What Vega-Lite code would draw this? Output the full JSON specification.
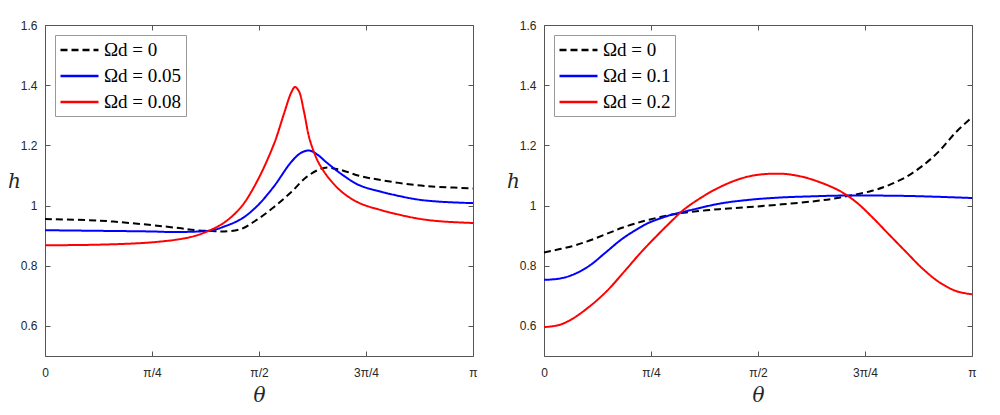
{
  "$schema": "https://vega.github.io/schema/vega-lite/v6.json",
  "padding": {"left": 7, "top": 19, "right": 5, "bottom": 5},
  "bounds": "flush",
  "spacing": 71,
  "datasets": {
    "left": [
      {"series": "Ωd = 0", "theta": 0, "h": 0.955},
      {"series": "Ωd = 0", "theta": 0.396, "h": 0.950},
      {"series": "Ωd = 0", "theta": 0.763, "h": 0.936},
      {"series": "Ωd = 0", "theta": 0.984, "h": 0.925},
      {"series": "Ωd = 0", "theta": 1.108, "h": 0.918},
      {"series": "Ωd = 0", "theta": 1.226, "h": 0.915},
      {"series": "Ωd = 0", "theta": 1.314, "h": 0.914},
      {"series": "Ωd = 0", "theta": 1.439, "h": 0.922},
      {"series": "Ωd = 0", "theta": 1.556, "h": 0.953},
      {"series": "Ωd = 0", "theta": 1.681, "h": 0.995},
      {"series": "Ωd = 0", "theta": 1.806, "h": 1.044},
      {"series": "Ωd = 0", "theta": 1.923, "h": 1.096},
      {"series": "Ωd = 0", "theta": 2.048, "h": 1.125},
      {"series": "Ωd = 0", "theta": 2.158, "h": 1.120},
      {"series": "Ωd = 0", "theta": 2.305, "h": 1.099},
      {"series": "Ωd = 0", "theta": 2.474, "h": 1.084},
      {"series": "Ωd = 0", "theta": 2.723, "h": 1.068},
      {"series": "Ωd = 0", "theta": 2.892, "h": 1.062},
      {"series": "Ωd = 0", "theta": 3.1416, "h": 1.057},
      {"series": "Ωd = 0.05", "theta": 0, "h": 0.918},
      {"series": "Ωd = 0.05", "theta": 0.396, "h": 0.916},
      {"series": "Ωd = 0.05", "theta": 0.763, "h": 0.914},
      {"series": "Ωd = 0.05", "theta": 0.984, "h": 0.912},
      {"series": "Ωd = 0.05", "theta": 1.226, "h": 0.918},
      {"series": "Ωd = 0.05", "theta": 1.314, "h": 0.930},
      {"series": "Ωd = 0.05", "theta": 1.439, "h": 0.955},
      {"series": "Ωd = 0.05", "theta": 1.556, "h": 0.998},
      {"series": "Ωd = 0.05", "theta": 1.681, "h": 1.064},
      {"series": "Ωd = 0.05", "theta": 1.806, "h": 1.144},
      {"series": "Ωd = 0.05", "theta": 1.879, "h": 1.175},
      {"series": "Ωd = 0.05", "theta": 1.938, "h": 1.183},
      {"series": "Ωd = 0.05", "theta": 1.997, "h": 1.170},
      {"series": "Ωd = 0.05", "theta": 2.070, "h": 1.142},
      {"series": "Ωd = 0.05", "theta": 2.190, "h": 1.100},
      {"series": "Ωd = 0.05", "theta": 2.305, "h": 1.068},
      {"series": "Ωd = 0.05", "theta": 2.474, "h": 1.045},
      {"series": "Ωd = 0.05", "theta": 2.723, "h": 1.021},
      {"series": "Ωd = 0.05", "theta": 2.892, "h": 1.013},
      {"series": "Ωd = 0.05", "theta": 3.1416, "h": 1.008},
      {"series": "Ωd = 0.08", "theta": 0, "h": 0.868},
      {"series": "Ωd = 0.08", "theta": 0.396, "h": 0.870},
      {"series": "Ωd = 0.08", "theta": 0.763, "h": 0.877},
      {"series": "Ωd = 0.08", "theta": 0.984, "h": 0.888},
      {"series": "Ωd = 0.08", "theta": 1.108, "h": 0.900},
      {"series": "Ωd = 0.08", "theta": 1.226, "h": 0.921},
      {"series": "Ωd = 0.08", "theta": 1.314, "h": 0.943},
      {"series": "Ωd = 0.08", "theta": 1.439, "h": 0.995},
      {"series": "Ωd = 0.08", "theta": 1.556, "h": 1.080},
      {"series": "Ωd = 0.08", "theta": 1.681, "h": 1.205},
      {"series": "Ωd = 0.08", "theta": 1.754, "h": 1.305},
      {"series": "Ωd = 0.08", "theta": 1.806, "h": 1.374},
      {"series": "Ωd = 0.08", "theta": 1.835, "h": 1.394},
      {"series": "Ωd = 0.08", "theta": 1.864, "h": 1.380},
      {"series": "Ωd = 0.08", "theta": 1.901, "h": 1.312},
      {"series": "Ωd = 0.08", "theta": 1.938, "h": 1.228},
      {"series": "Ωd = 0.08", "theta": 1.975, "h": 1.177},
      {"series": "Ωd = 0.08", "theta": 2.011, "h": 1.140},
      {"series": "Ωd = 0.08", "theta": 2.085, "h": 1.090},
      {"series": "Ωd = 0.08", "theta": 2.180, "h": 1.045},
      {"series": "Ωd = 0.08", "theta": 2.305, "h": 1.009},
      {"series": "Ωd = 0.08", "theta": 2.474, "h": 0.984},
      {"series": "Ωd = 0.08", "theta": 2.723, "h": 0.958},
      {"series": "Ωd = 0.08", "theta": 2.892, "h": 0.948},
      {"series": "Ωd = 0.08", "theta": 3.1416, "h": 0.942}
    ],
    "right": [
      {"series": "Ωd = 0", "theta": 0, "h": 0.844},
      {"series": "Ωd = 0", "theta": 0.206, "h": 0.865},
      {"series": "Ωd = 0", "theta": 0.330, "h": 0.883},
      {"series": "Ωd = 0", "theta": 0.455, "h": 0.905},
      {"series": "Ωd = 0", "theta": 0.573, "h": 0.926},
      {"series": "Ωd = 0", "theta": 0.697, "h": 0.944},
      {"series": "Ωd = 0", "theta": 0.771, "h": 0.953},
      {"series": "Ωd = 0", "theta": 0.940, "h": 0.970},
      {"series": "Ωd = 0", "theta": 1.042, "h": 0.977},
      {"series": "Ωd = 0", "theta": 1.285, "h": 0.988},
      {"series": "Ωd = 0", "theta": 1.505, "h": 0.995},
      {"series": "Ωd = 0", "theta": 1.747, "h": 1.004},
      {"series": "Ωd = 0", "theta": 1.997, "h": 1.015},
      {"series": "Ωd = 0", "theta": 2.165, "h": 1.026},
      {"series": "Ωd = 0", "theta": 2.408, "h": 1.049},
      {"series": "Ωd = 0", "theta": 2.532, "h": 1.068},
      {"series": "Ωd = 0", "theta": 2.657, "h": 1.095},
      {"series": "Ωd = 0", "theta": 2.775, "h": 1.131},
      {"series": "Ωd = 0", "theta": 2.899, "h": 1.180},
      {"series": "Ωd = 0", "theta": 3.024, "h": 1.244},
      {"series": "Ωd = 0", "theta": 3.1416, "h": 1.293},
      {"series": "Ωd = 0.1", "theta": 0, "h": 0.753},
      {"series": "Ωd = 0.1", "theta": 0.110, "h": 0.757},
      {"series": "Ωd = 0.1", "theta": 0.206, "h": 0.769},
      {"series": "Ωd = 0.1", "theta": 0.330, "h": 0.799},
      {"series": "Ωd = 0.1", "theta": 0.455, "h": 0.845},
      {"series": "Ωd = 0.1", "theta": 0.573, "h": 0.889},
      {"series": "Ωd = 0.1", "theta": 0.697, "h": 0.925},
      {"series": "Ωd = 0.1", "theta": 0.771, "h": 0.943},
      {"series": "Ωd = 0.1", "theta": 0.940, "h": 0.970},
      {"series": "Ωd = 0.1", "theta": 1.042, "h": 0.981},
      {"series": "Ωd = 0.1", "theta": 1.285, "h": 1.006},
      {"series": "Ωd = 0.1", "theta": 1.505, "h": 1.019},
      {"series": "Ωd = 0.1", "theta": 1.747, "h": 1.027},
      {"series": "Ωd = 0.1", "theta": 1.997, "h": 1.031},
      {"series": "Ωd = 0.1", "theta": 2.165, "h": 1.033},
      {"series": "Ωd = 0.1", "theta": 2.657, "h": 1.032},
      {"series": "Ωd = 0.1", "theta": 3.1416, "h": 1.025},
      {"series": "Ωd = 0.2", "theta": 0, "h": 0.596},
      {"series": "Ωd = 0.2", "theta": 0.110, "h": 0.603},
      {"series": "Ωd = 0.2", "theta": 0.206, "h": 0.623},
      {"series": "Ωd = 0.2", "theta": 0.330, "h": 0.663},
      {"series": "Ωd = 0.2", "theta": 0.455, "h": 0.713},
      {"series": "Ωd = 0.2", "theta": 0.573, "h": 0.772},
      {"series": "Ωd = 0.2", "theta": 0.697, "h": 0.837},
      {"series": "Ωd = 0.2", "theta": 0.771, "h": 0.873},
      {"series": "Ωd = 0.2", "theta": 0.940, "h": 0.950},
      {"series": "Ωd = 0.2", "theta": 1.042, "h": 0.992},
      {"series": "Ωd = 0.2", "theta": 1.285, "h": 1.060},
      {"series": "Ωd = 0.2", "theta": 1.505, "h": 1.097},
      {"series": "Ωd = 0.2", "theta": 1.725, "h": 1.106},
      {"series": "Ωd = 0.2", "theta": 1.872, "h": 1.098},
      {"series": "Ωd = 0.2", "theta": 1.997, "h": 1.082},
      {"series": "Ωd = 0.2", "theta": 2.165, "h": 1.050},
      {"series": "Ωd = 0.2", "theta": 2.290, "h": 1.012},
      {"series": "Ωd = 0.2", "theta": 2.408, "h": 0.962},
      {"series": "Ωd = 0.2", "theta": 2.532, "h": 0.904},
      {"series": "Ωd = 0.2", "theta": 2.657, "h": 0.846},
      {"series": "Ωd = 0.2", "theta": 2.775, "h": 0.792},
      {"series": "Ωd = 0.2", "theta": 2.899, "h": 0.746},
      {"series": "Ωd = 0.2", "theta": 3.024, "h": 0.716},
      {"series": "Ωd = 0.2", "theta": 3.1416, "h": 0.705}
    ]
  },
  "config": {
    "view": {"stroke": null},
    "axis": {
      "grid": false,
      "domainColor": "#555555",
      "domainWidth": 1,
      "tickColor": "#555555",
      "tickSize": -5,
      "labelPadding": 13,
      "labelFlush": false,
      "labelFont": "Liberation Sans",
      "labelFontSize": 12,
      "labelColor": "#262626",
      "titleFont": "DejaVu Serif",
      "titleFontStyle": "italic",
      "titleFontWeight": "normal",
      "titleFontSize": 20,
      "titleColor": "#262626"
    },
    "axisX": {"labelPadding": 16, "titlePadding": 7},
    "legend": {
      "orient": "top-left",
      "offset": 10,
      "title": null,
      "symbolType": "M-1,0H3",
      "symbolSize": 361,
      "symbolStrokeWidth": 2.5,
      "labelFont": "Liberation Serif",
      "labelFontSize": 19,
      "labelColor": "#000000",
      "labelOffset": 23,
      "padding": 4,
      "rowPadding": 5,
      "strokeColor": "#999999",
      "fillColor": "#ffffff",
      "cornerRadius": 0
    }
  },
  "hconcat": [
    {
      "width": 428,
      "height": 331,
      "data": {"name": "left"},
      "layer": [
        {
          "mark": {"type": "line", "strokeWidth": 2, "interpolate": "catmull-rom"},
          "encoding": {
            "x": {"field": "theta", "type": "quantitative", "scale": {"domain": [0, 3.1416], "nice": false, "zero": false},
              "axis": {"values": [0, 0.7854, 1.5708, 2.3562, 3.1416], "labelExpr": "datum.value < 0.1 ? '0' : datum.value < 1 ? 'π/4' : datum.value < 2 ? 'π/2' : datum.value < 3 ? '3π/4' : 'π'", "title": "θ"}},
            "y": {"field": "h", "type": "quantitative", "scale": {"domain": [0.5, 1.6], "nice": false, "zero": false},
              "axis": {"values": [0.6, 0.8, 1, 1.2, 1.4, 1.6], "format": "~g", "title": "h", "titleAngle": 0, "titleX": -31, "titleY": 156, "titleAlign": "center", "titleBaseline": "middle"}},
            "color": {"field": "series", "type": "nominal", "scale": {"domain": ["Ωd = 0", "Ωd = 0.05", "Ωd = 0.08"], "range": ["#000000", "#0000ff", "#ff0000"]}, "legend": {"title": null}},
            "strokeDash": {"field": "series", "type": "nominal", "scale": {"domain": ["Ωd = 0", "Ωd = 0.05", "Ωd = 0.08"], "range": [[7, 4], [1, 0], [1, 0]]}, "legend": {"title": null}}
          }
        },
        {
          "mark": {"type": "line", "opacity": 0},
          "encoding": {
            "x": {"field": "theta", "type": "quantitative", "axis": {"orient": "top", "values": [0, 0.7854, 1.5708, 2.3562, 3.1416], "labels": false, "title": null}},
            "y": {"field": "h", "type": "quantitative", "axis": {"orient": "right", "values": [0.6, 0.8, 1, 1.2, 1.4, 1.6], "labels": false, "title": null}},
            "detail": {"field": "series", "type": "nominal"}
          }
        }
      ],
      "resolve": {"axis": {"x": "independent", "y": "independent"}}
    },
    {
      "width": 428,
      "height": 331,
      "data": {"name": "right"},
      "layer": [
        {
          "mark": {"type": "line", "strokeWidth": 2, "interpolate": "catmull-rom"},
          "encoding": {
            "x": {"field": "theta", "type": "quantitative", "scale": {"domain": [0, 3.1416], "nice": false, "zero": false},
              "axis": {"values": [0, 0.7854, 1.5708, 2.3562, 3.1416], "labelExpr": "datum.value < 0.1 ? '0' : datum.value < 1 ? 'π/4' : datum.value < 2 ? 'π/2' : datum.value < 3 ? '3π/4' : 'π'", "title": "θ"}},
            "y": {"field": "h", "type": "quantitative", "scale": {"domain": [0.5, 1.6], "nice": false, "zero": false},
              "axis": {"values": [0.6, 0.8, 1, 1.2, 1.4, 1.6], "format": "~g", "title": "h", "titleAngle": 0, "titleX": -31, "titleY": 156, "titleAlign": "center", "titleBaseline": "middle"}},
            "color": {"field": "series", "type": "nominal", "scale": {"domain": ["Ωd = 0", "Ωd = 0.1", "Ωd = 0.2"], "range": ["#000000", "#0000ff", "#ff0000"]}, "legend": {"title": null}},
            "strokeDash": {"field": "series", "type": "nominal", "scale": {"domain": ["Ωd = 0", "Ωd = 0.1", "Ωd = 0.2"], "range": [[7, 4], [1, 0], [1, 0]]}, "legend": {"title": null}}
          }
        },
        {
          "mark": {"type": "line", "opacity": 0},
          "encoding": {
            "x": {"field": "theta", "type": "quantitative", "axis": {"orient": "top", "values": [0, 0.7854, 1.5708, 2.3562, 3.1416], "labels": false, "title": null}},
            "y": {"field": "h", "type": "quantitative", "axis": {"orient": "right", "values": [0.6, 0.8, 1, 1.2, 1.4, 1.6], "labels": false, "title": null}},
            "detail": {"field": "series", "type": "nominal"}
          }
        }
      ],
      "resolve": {"axis": {"x": "independent", "y": "independent"}}
    }
  ],
  "resolve": {"scale": {"color": "independent", "strokeDash": "independent"}, "legend": {"color": "independent", "strokeDash": "independent"}}
}
